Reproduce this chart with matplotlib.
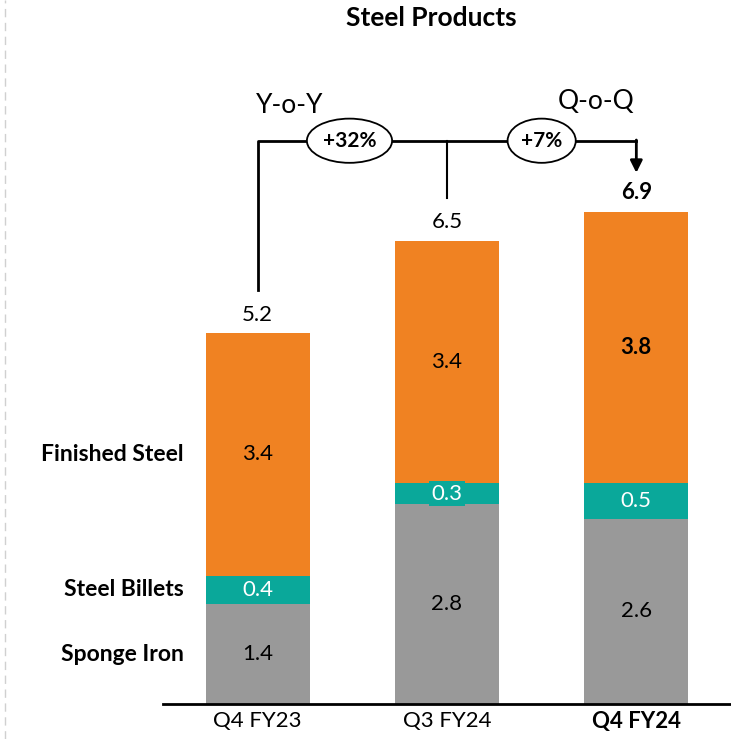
import matplotlib.pyplot as plt
from matplotlib.patches import Ellipse
import numpy as np

plt.rcParams['font.family'] = ['Lato', 'DejaVu Sans']

quarters = ["Q4 FY23", "Q3 FY24", "Q4 FY24"]
sponge_iron = [1.4, 2.8, 2.6]
steel_billets = [0.4, 0.3, 0.5]
finished_steel = [3.4, 3.4, 3.8]
totals = [5.2, 6.5, 6.9]
yoy = "+32%"
qoq = "+7%"

grey = "#999999"
teal = "#0AA89A"
orange = "#F08222"

fig = plt.figure(figsize=(7.31, 7.39), dpi=100)
ax = fig.add_axes([163 / 731, 35 / 739, 568 / 731, 704 / 739])

x = np.arange(len(quarters))
w = 0.55
b1 = np.array(sponge_iron)
b2 = b1 + np.array(steel_billets)
ax.bar(x, sponge_iron, w, color=grey)
ax.bar(x, steel_billets, w, bottom=b1, color=teal)
ax.bar(x, finished_steel, w, bottom=b2, color=orange)

fs = 16
for i in x:
    bold = "bold" if i == 2 else "normal"
    ax.text(i, sponge_iron[i] / 2, f"{sponge_iron[i]}", ha="center", va="center", fontsize=fs)
    ax.text(i, b1[i] + steel_billets[i] / 2, f"{steel_billets[i]}", ha="center", va="center",
            fontsize=fs, color="white",
            bbox=dict(facecolor=teal, edgecolor="none", pad=2))
    ax.text(i, b2[i] + finished_steel[i] / 2, f"{finished_steel[i]}", ha="center", va="center",
            fontsize=fs, fontweight=bold)
    ax.text(i, totals[i] + 0.12, f"{totals[i]}", ha="center", va="bottom", fontsize=fs, fontweight=bold)

# segment names on the left
ax.text(-0.39, b2[0] + finished_steel[0] / 2, "Finished Steel", ha="right", va="center",
        fontsize=16.5, fontweight="bold")
ax.text(-0.39, b1[0] + steel_billets[0] / 2, "Steel Billets", ha="right", va="center",
        fontsize=16.5, fontweight="bold")
ax.text(-0.39, sponge_iron[0] / 2, "Sponge Iron", ha="right", va="center",
        fontsize=16.5, fontweight="bold")

# growth bracket
ytop = 7.9
ax.plot([0, 0, 2, 2], [totals[0] + 0.6, ytop, ytop, ytop], color="black", lw=2)
ax.plot([1, 1], [totals[1] + 0.6, ytop], color="black", lw=1.5)
ax.annotate("", xy=(2, totals[2] + 0.55), xytext=(2, ytop + 0.01),
            arrowprops=dict(arrowstyle="-|>", color="black", lw=2, mutation_scale=18,
                            shrinkA=0, shrinkB=0))
ax.add_patch(Ellipse((0.485, ytop), 0.45, 0.62, facecolor="white", edgecolor="black", lw=1.3, zorder=3))
ax.text(0.485, ytop, yoy, ha="center", va="center", fontsize=15, fontweight="bold", zorder=4)
ax.add_patch(Ellipse((1.5, ytop), 0.36, 0.62, facecolor="white", edgecolor="black", lw=1.3, zorder=3))
ax.text(1.5, ytop, qoq, ha="center", va="center", fontsize=15, fontweight="bold", zorder=4)
ax.text(0.17, ytop + 0.5, "Y-o-Y", ha="center", va="center", fontsize=19)
ax.text(1.79, ytop + 0.55, "Q-o-Q", ha="center", va="center", fontsize=19)

fig.text(431 / 731, 1 - 18 / 739, "Steel Products", ha="center", va="center",
         fontsize=19, fontweight="bold")

ax.set_xlim(-0.5, 2.5)
ax.set_ylim(0, 704 / 71.3)
ax.set_xticks(x)
ax.set_xticklabels(quarters, fontsize=16)
ax.get_xticklabels()[2].set_fontweight("bold")
ax.tick_params(axis="x", length=0, pad=5)
ax.set_yticks([])
for s in ["top", "right", "left"]:
    ax.spines[s].set_visible(False)
ax.spines["bottom"].set_linewidth(2)

fig.add_artist(plt.Line2D([5 / 731, 5 / 731], [0, 1], color="#d0d0d0", lw=1, ls=(0, (6, 4))))

fig.savefig("out.png", dpi=100)
